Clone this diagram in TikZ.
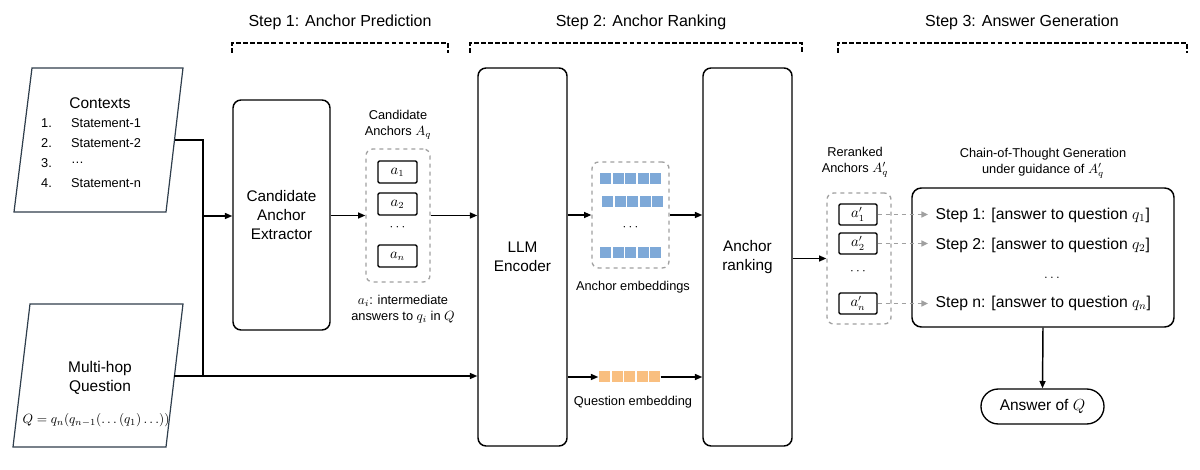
\documentclass[tikz,border=0pt]{standalone}
\usepackage{fontspec}
\setmainfont{Liberation Sans}
\setsansfont{Liberation Sans}
\usetikzlibrary{arrows.meta, positioning, calc}
\definecolor{cblue}{HTML}{7EA9D8}
\definecolor{corange}{HTML}{F9BF80}
\definecolor{cgrey}{HTML}{A0A0A0}
\definecolor{cslate}{HTML}{2F3E4C}
\def\px{0.75pt}
\tikzset{
  every picture/.style={font=\sffamily, line width=1.1pt, x=0.75pt, y=-0.75pt},
  box/.style={draw, rounded corners=6pt, align=center, inner sep=0pt, font=\sffamily\fontsize{11.5}{14}\selectfont},
  para/.style={draw=cslate, line width=0.9pt},
  group/.style={draw=cgrey, dashed, rounded corners=5pt, inner sep=0pt, line width=1pt},
  item/.style={draw, line width=1pt, rounded corners=1pt, minimum width=39*\px, minimum height=22*\px, inner sep=0pt, font=\fontsize{10.5}{12}\selectfont},
  arrow/.style={-{Triangle[length=5.5pt, width=4.5pt]}, line width=1.1pt},
  garrow/.style={-{Triangle[length=5pt, width=4.5pt]}, draw=cgrey, dashed, line width=1pt},
  bracket/.style={dashed, line width=1.1pt, dash pattern=on 3.5pt off 1.8pt},
  head/.style={font=\sffamily\fontsize{12}{14}\selectfont},
  note/.style={font=\sffamily\fontsize{9.6}{12}\selectfont, align=center},
  big/.style={font=\sffamily\fontsize{11.6}{14.5}\selectfont},
  stepline/.style={font=\sffamily\fontsize{11.8}{14}\selectfont, anchor=west, inner sep=7*\px},
}
\begin{document}
\begin{tikzpicture}
  \useasboundingbox (0,0) rectangle (1200,470);
  % ---------- headers ----------
  \node[head] at (340,22) {Step 1: Anchor Prediction};
  \node[head] at (641,22) {Step 2: Anchor Ranking};
  \node[head] at (1022,22) {Step 3: Answer Generation};
  \draw[bracket] (232,53) -- (232,43) -- (448,43) -- (448,53);
  \draw[bracket] (470,53) -- (470,43) -- (802,43) -- (802,53);
  \draw[bracket] (838,53) -- (838,43) -- (1187,43) -- (1187,53);
  % ---------- inputs ----------
  \draw[para] (32,68) -- (183,68) -- (166,212) -- (14,212) -- cycle;
  \coordinate (ctx) at (175,140);
  \node[big] at (100,103) {Contexts};
  \foreach \t [count=\i] in {Statement-1, Statement-2, \dots, Statement-n} {
    \node[note, anchor=east, font=\sffamily\fontsize{9.6}{11}\selectfont] at (57,103+20*\i) {\i.};
    \node[note, anchor=west, font=\sffamily\fontsize{9.6}{11}\selectfont] at (66,103+20*\i) {\t};
  }
  \draw[para] (30,304) -- (183,304) -- (166,447) -- (13,447) -- cycle;
  \coordinate (qst) at (174,376);
  \node[big, align=center] at (100,378) {Multi-hop\\Question};
  \node[note, font=\fontsize{10}{12}\selectfont] at (96,420) {$Q=q_n(q_{n-1}(\dots(q_1)\dots))$};
  % ---------- step 1 ----------
  \node[box, minimum width=97*\px, minimum height=230*\px] (cae) at (281.5,215) {Candidate\\Anchor\\Extractor};
  \node[group, minimum width=64*\px, minimum height=133*\px] (cand) at (398,215.5) {};
  \node[note] at (398,125) {Candidate\\Anchors $A_q$};
  \node[item] (a1) at (397.5,172) {$a_1$};
  \node[item] (a2) at (397.5,204) {$a_2$};
  \node at (397.5,228) {$\cdots$};
  \node[item] (an) at (397.5,256) {$a_n$};
  \node[note] at (403,309) {$a_i$: intermediate\\answers to $q_i$ in $Q$};
  \coordinate (jn) at (203,216);
  \draw (ctx) -| (jn);
  \draw (qst) -| (jn);
  \draw[arrow] (jn) -- (jn -| cae.west);
  \draw[arrow] (cae.east |- cand) -- (cand.west);
  % ---------- step 2 ----------
  \node[box, minimum width=89*\px, minimum height=378*\px] (llm) at (522.5,257) {LLM\\Encoder};
  \node[box, minimum width=89*\px, minimum height=378*\px] (rank) at (747.5,257) {Anchor\\ranking};
  \draw[arrow] (cand.east) -- (cand.east -| llm.west);
  \draw[arrow] (qst) -- (qst -| llm.west);
  \node[group, minimum width=77*\px, minimum height=106*\px] (aemb) at (630.5,215) {};
  \foreach \y/\x in {179/600, 202/602, 253/600}
    \foreach \k in {0,...,4}
      \fill[cblue] (\x+12.5*\k,\y-5.5) rectangle ++(11,11);
  \node at (630.5,228) {$\cdots$};
  \node[note] at (633,287) {Anchor embeddings};
  \node[minimum width=61*\px, minimum height=11*\px, inner sep=0pt] (qemb) at (629.5,377) {};
  \foreach \k in {0,...,4}
    \fill[corange] (599+12.5*\k,371.5) rectangle ++(11,11);
  \node[note] at (633,402) {Question embedding};
  \draw[arrow] (llm.east |- aemb) -- (aemb.west);
  \draw[arrow] (aemb.east) -- (aemb.east -| rank.west);
  \draw[arrow] (llm.east |- qemb) -- (qemb.west);
  \draw[arrow] (qemb.east) -- (qemb.east -| rank.west);
  % ---------- step 3 ----------
  \node[group, minimum width=64*\px, minimum height=131*\px] (rer) at (859,258.5) {};
  \node[note] at (855,162) {Reranked\\Anchors $A'_q$};
  \node[item, minimum width=38*\px, minimum height=21*\px] (r1) at (858,214.5) {$a'_1$};
  \node[item, minimum width=38*\px, minimum height=21*\px] (r2) at (858,243.5) {$a'_2$};
  \node at (858,272) {$\cdots$};
  \node[item, minimum width=38*\px, minimum height=21*\px] (rn) at (858,303.5) {$a'_n$};
  \draw[arrow] (rank.east |- rer) -- (rer.west);
  \node[draw, rounded corners=7pt, line width=1.1pt, minimum width=262*\px, minimum height=139*\px] (cot) at (1043,257.5) {};
  \node[note] at (1043,163) {Chain-of-Thought Generation\\under guidance of $A'_q$};
  \node[stepline] (s1) at (928,215) {Step 1: [answer to question $q_1$]};
  \node[stepline] (s2) at (928,245) {Step 2: [answer to question $q_2$]};
  \node at (1052,278) {$\dots$};
  \node[stepline] (sn) at (928,303) {Step n: [answer to question $q_n$]};
  \draw[garrow] (r1.east) -- (r1.east -| s1.west);
  \draw[garrow] (r2.east) -- (r2.east -| s2.west);
  \draw[garrow] (rn.east) -- (rn.east -| sn.west);
  \node[draw, rounded corners=13pt, line width=1pt, minimum width=123*\px, minimum height=35*\px, big] (ans) at (1042.5,406.5) {Answer of $Q$};
  \draw[arrow] (cot.south) -- (ans.north);
\end{tikzpicture}
\end{document}
